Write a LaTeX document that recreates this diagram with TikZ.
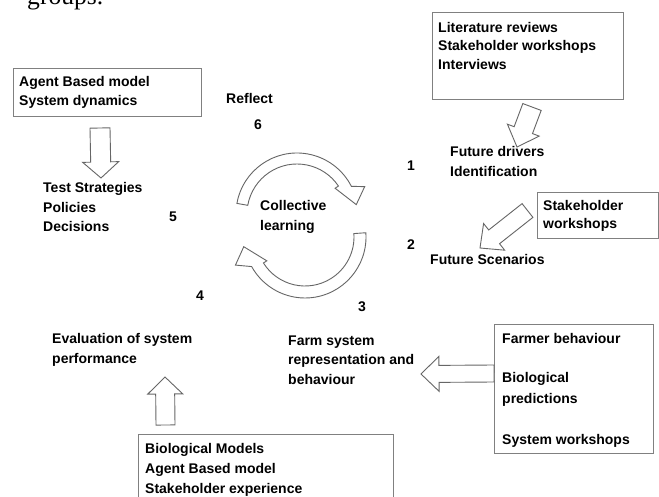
\documentclass[tikz,border=0pt]{standalone}
\usepackage{fontspec}
\setmainfont{Liberation Sans}
\newfontfamily\groupsfont{Liberation Serif}
\usetikzlibrary{calc}
\tikzset{
  txt/.style={anchor=base west, inner sep=0pt, font=\fontsize{14}{17}\selectfont\bfseries},
  num/.style={anchor=center, inner sep=0pt, font=\fontsize{14}{17}\selectfont\bfseries},
  boxframe/.style={draw=black!50, line width=1.2pt, anchor=north west, inner sep=0pt},
  barrow/.style={draw=black!60, line width=0.9pt, fill=white, line join=miter},
}
% tail, tip, shaft half width, head half width, head length
\newcommand\blockarrow[5]{%
  \coordinate (hb) at ($(#2)!#5!(#1)$);
  \draw[barrow] ($(#1)!#3!90:(#2)$) -- ($(hb)!#3!-90:(#1)$) -- ($(hb)!#4!-90:(#1)$)
     -- (#2) -- ($(hb)!#4!90:(#1)$) -- ($(hb)!#3!90:(#1)$) -- ($(#1)!#3!-90:(#2)$) -- cycle;
}
\begin{document}
\begin{tikzpicture}[x=1pt,y=-1pt]
\fill[white] (0,0) rectangle (659,497);
\useasboundingbox (0,0) rectangle (659,497);

% cut-off document text at the top
\node[anchor=base west, inner sep=0pt, font=\groupsfont\fontsize{25.6}{30}\selectfont] (groups) at (27,4.5) {groups.};

% ---------- boxes ----------
\node[boxframe, minimum width=188pt, minimum height=48pt] (boxA) at (13,68) {};
\node[boxframe, minimum width=191pt, minimum height=87pt] (boxB) at (432,12) {};
\node[boxframe, minimum width=121pt, minimum height=46pt] (boxC) at (537,192) {};
\node[boxframe, minimum width=159pt, minimum height=129pt] (boxD) at (494,324) {};
\node[boxframe, minimum width=255pt, minimum height=80pt] (boxE) at (138,434) {};

% ---------- box texts ----------
\node[txt] (a1) at (19,87) {Agent Based model};
\node[txt] (a2) at (19,106) {System dynamics};

\node[txt] (b1) at (438,32.5) {Literature reviews};
\node[txt] (b2) at (438,51) {Stakeholder workshops};
\node[txt] (b3) at (438,70) {Interviews};

\node[txt] (c1) at (543,210.5) {Stakeholder};
\node[txt] (c2) at (543,229) {workshops};

\node[txt] (d1) at (502,343) {Farmer behaviour};
\node[txt] (d2) at (502,382) {Biological};
\node[txt] (d3) at (502,403) {predictions};
\node[txt] (d4) at (502,444) {System workshops};

\node[txt] (e1) at (145,453) {Biological Models};
\node[txt] (e2) at (145,473) {Agent Based model};
\node[txt] (e3) at (145,493) {Stakeholder experience};

% ---------- stage texts ----------
\node[txt] (reflect) at (226,104) {Reflect};
\node[num] (n6) at (258,125) {6};
\node[txt] (t1) at (43,193) {Test Strategies};
\node[txt] (t2) at (43,213) {Policies};
\node[txt] (t3) at (43,232) {Decisions};
\node[num] (n5) at (173,217) {5};
\node[txt] (cl1) at (260,211) {Collective};
\node[txt] (cl2) at (260,231) {learning};
\node[num] (n1) at (411,166) {1};
\node[txt] (f1) at (450,157) {Future drivers};
\node[txt] (f2) at (450,177) {Identification};
\node[num] (n2) at (411,245) {2};
\node[txt] (fs) at (430,265) {Future Scenarios};
\node[num] (n3) at (362,307) {3};
\node[num] (n4) at (200,296) {4};
\node[txt] (ev1) at (52,343) {Evaluation of system};
\node[txt] (ev2) at (52,363) {performance};
\node[txt] (fm1) at (288,345) {Farm system};
\node[txt] (fm2) at (288,364) {representation and};
\node[txt] (fm3) at (288,384) {behaviour};

% ---------- block arrows ----------
\coordinate (ta1) at (100,128);   \coordinate (pa1) at (101,178);
\coordinate (ta2) at (165.5,425); \coordinate (pa2) at (165,377);
\coordinate (ta3) at (494,373.5); \coordinate (pa3) at (421,374);
\coordinate (ta4) at (532,107);   \coordinate (pa4) at (517,147);
\coordinate (ta5) at (527.5,210.5); \coordinate (pa5) at (480,248);
\blockarrow{ta1}{pa1}{10pt}{18pt}{16pt}
\blockarrow{ta2}{pa2}{9.5pt}{17.5pt}{17pt}
\blockarrow{ta3}{pa3}{8.5pt}{17.5pt}{18pt}
\blockarrow{ta4}{pa4}{9.8pt}{17pt}{18pt}
\blockarrow{ta5}{pa5}{8.75pt}{17pt}{18pt}

% ---------- circular arrows ----------
\coordinate (cc1) at (297,214);
\coordinate (cc2) at (305,237);
\draw[barrow] ($(cc1)+(-170:61)$) arc[start angle=-170, end angle=-27, radius=61]
  -- ($(cc1)+(-22:73)$) -- ($(cc1)+(-9:60)$) -- ($(cc1)+(-34:46)$) -- ($(cc1)+(-34:50)$)
  arc[start angle=-34, end angle=-170, radius=50] -- cycle;
\draw[barrow] ($(cc2)+(-4:61)$) arc[start angle=-4, end angle=151, radius=61]
  -- ($(cc2)+(158:75)$) -- ($(cc2)+(171:62)$) -- ($(cc2)+(148:45)$) -- ($(cc2)+(148:49)$)
  arc[start angle=148, end angle=-4, radius=49] -- cycle;
\end{tikzpicture}
\end{document}
